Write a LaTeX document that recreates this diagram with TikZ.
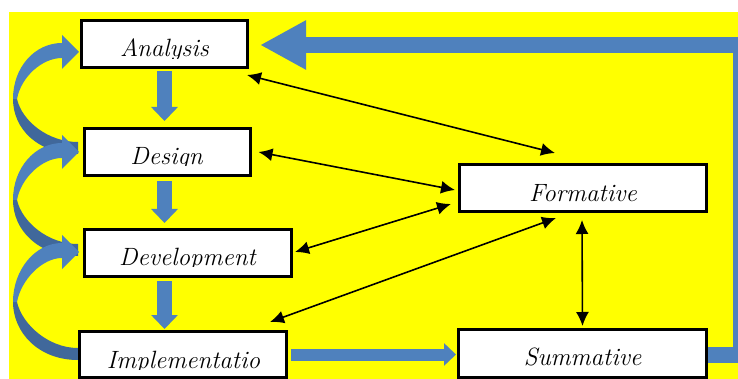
\documentclass[tikz,border=0pt]{standalone}
\usetikzlibrary{arrows.meta,calc}
\definecolor{ybg}{RGB}{255,255,0}
\definecolor{ablue}{RGB}{79,129,189}
\definecolor{dblue}{RGB}{64,104,155}
\pgfdeclarelayer{bg}
\pgfsetlayers{bg,main}
\newcommand\curvedarrow[2]{% #1 = head tip y, #2 = tail y
  \pgfmathsetmacro\ym{(#1+#2)/2}
  \fill[dblue] (13,\ym) .. controls (13,\ym+30) and (38,#2+6) .. (78,#2+6)
     -- (78,#2-6) .. controls (48,#2-6) and (22,\ym+22) .. (17,\ym) -- cycle;
  \fill[ablue] (13,\ym) .. controls (13,\ym-32) and (35,#1-7) .. (62,#1-7)
     -- (62,#1-15) -- (79,#1+2) -- (62,#1+19) -- (62,#1+8)
     .. controls (42,#1+8) and (21,\ym-22) .. (17,\ym) -- cycle;
}
\begin{document}
\begin{tikzpicture}[x=1pt,y=-1pt,
  box/.style={draw=black,line width=3pt,fill=white,inner sep=0pt,minimum height=47pt},
  lbl/.style={font=\fontsize{25}{30}\selectfont\itshape,inner sep=0pt,anchor=base},
  dbl/.style={{Latex[length=14pt,width=13pt]}-{Latex[length=14pt,width=13pt]},line width=1.6pt,black},
  downarrow/.style={draw=ablue,line width=15pt,-{Triangle[length=14pt,width=26pt]}},
  fbarrow/.style={draw=ablue,line width=16pt,line join=miter,-{Triangle[length=46pt,width=46pt]}},
  sumarrow/.style={draw=ablue,line width=12pt,-{Triangle[length=12pt,width=22pt]}}]
\useasboundingbox (0,0) rectangle (738,379);
\clip (0,0) rectangle (738,379);
\begin{pgfonlayer}{bg}
  \fill[white] (0,0) rectangle (738,379);
  \fill[ybg] (9,12) rectangle (738,379);
\end{pgfonlayer}
% boxes
\node[box,minimum width=166pt] (an) at (164.5,44) {};
\node[box,minimum width=166pt] (de) at (167.5,152) {};
\node[box,minimum width=207pt] (dv) at (188,253) {};
\node[box,minimum width=207pt,minimum height=46pt] (im) at (183,354.5) {};
\node[box,minimum width=247pt] (fo) at (583,188) {};
\node[box,minimum width=248pt,minimum height=48pt] (su) at (582.5,353.5) {};
% labels (clipped like the original text frames)
\begin{scope}\clip (80,19) rectangle (249,58.5);
  \node[lbl] (ant) at (164.5,57) {Analysis};\end{scope}
\begin{scope}\clip (83,127) rectangle (252,166);
  \node[lbl] (det) at (166.5,165) {Design};\end{scope}
\begin{scope}\clip (83,228) rectangle (293,266);
  \node[lbl] (dvt) at (187.5,265) {Development};\end{scope}
\begin{scope}\clip (78,330) rectangle (288,369);
  \node[lbl] (imt) at (183.5,368) {Implementatio};\end{scope}
\node[lbl] (fot) at (583,202) {Formative};
\node[lbl] (sut) at (582.5,365) {Summative};
% blue arrows
\begin{pgfonlayer}{bg}
  \curvedarrow{50}{148}
  \curvedarrow{150}{250}
  \curvedarrow{250}{354}
  \draw[downarrow,shorten <=2pt,shorten >=6pt] (an.south) -- (an.south |- de.north);
  \draw[downarrow,shorten <=4pt,shorten >=5pt] (de.south -| an.south) -- (an.south |- dv.north);
  \draw[downarrow,shorten <=3pt,shorten >=1pt] (dv.south -| an.south) -- (an.south |- im.north);
  \draw[sumarrow,shorten <=3pt,shorten >=1pt] (im.east) -- (su.west |- im.east);
  \coordinate (fbr) at (741,355);
  \coordinate (fbt) at (741,45);
  \draw[fbarrow,shorten >=11pt] (su.east |- fbr) -- (fbr) -- (fbt) -- (an.east |- fbt);
\end{pgfonlayer}
% black double arrows
\draw[dbl] ($(an.south east)+(-2,6)$) -- ($(fo.north)+(-28,-10)$);
\draw[dbl] ($(de.east)+(6.5,0)$) -- ($(fo.west)+(-3,2)$);
\draw[dbl] ($(dv.east)+(2,-1)$) -- ($(fo.south west)+(-7,-9)$);
\draw[dbl] ($(im.north east)+(-18,-8)$) -- ($(fo.south)+(-27,5)$);
\draw[dbl] ($(fo.south)+(-1,7)$) -- ($(su.north)+(0,-2)$);
\end{tikzpicture}
\end{document}
